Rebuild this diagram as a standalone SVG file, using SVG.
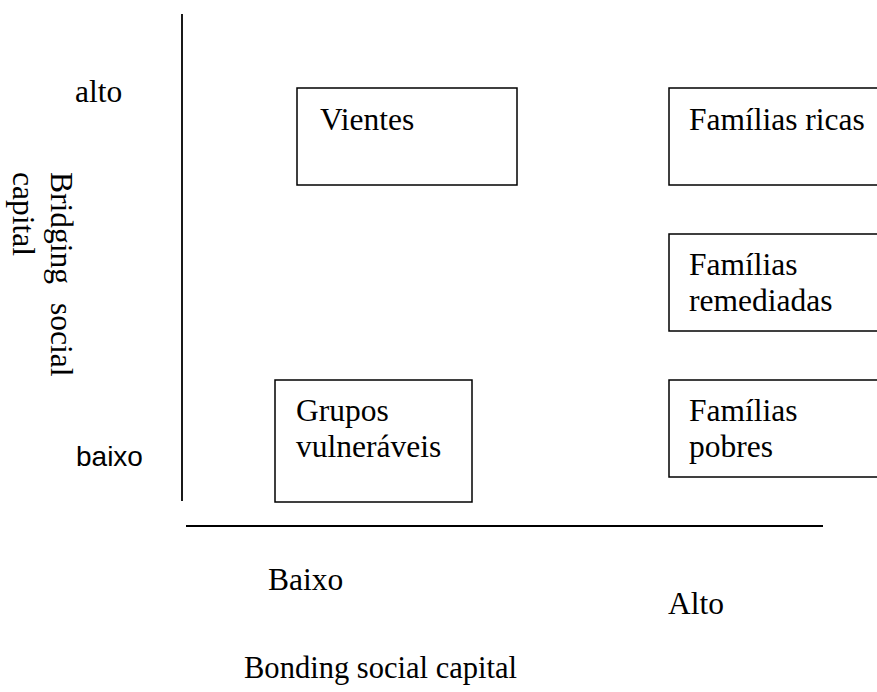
<svg xmlns="http://www.w3.org/2000/svg" width="877" height="692" viewBox="0 0 877 692">
  <style>
    .serif { font-family: "Liberation Serif", "Times New Roman", serif; font-size: 31.5px; fill: #000; }
    .sans { font-family: "Liberation Sans", Arial, sans-serif; font-size: 28px; fill: #000; }
    .box { fill: #fff; stroke: #000; stroke-width: 1.5; }
    .axis { stroke: #000; stroke-width: 1.8; fill: none; }
  </style>
  <rect width="877" height="692" fill="#fff"/>

  <g id="connectors">
    <line class="axis" x1="182" y1="14" x2="182" y2="501"/>
    <line class="axis" x1="186" y1="526" x2="823" y2="526"/>
  </g>

  <g id="axis-labels">
    <text class="serif" x="75" y="102">alto</text>
    <text class="sans" x="76" y="466">baixo</text>
    <text class="serif" transform="translate(51,172) rotate(90)"><tspan x="0" y="0">Bridging</tspan> <tspan x="131" y="0">social</tspan></text>
    <text class="serif" transform="translate(13,172) rotate(90)">capital</text>
    <text class="serif" x="268" y="590">Baixo</text>
    <text class="serif" x="668" y="614">Alto</text>
    <text class="serif" x="244" y="678" textLength="273" lengthAdjust="spacingAndGlyphs">Bonding social capital</text>
  </g>

  <g id="node-vientes">
    <rect class="box" x="297" y="88" width="220" height="97"/>
    <text class="serif" x="320" y="130">Vientes</text>
  </g>

  <g id="node-familias-ricas">
    <rect class="box" x="669" y="88" width="240" height="97"/>
    <text class="serif" x="689" y="130">Famílias ricas</text>
  </g>

  <g id="node-familias-remediadas">
    <rect class="box" x="669" y="234" width="240" height="97"/>
    <text class="serif" x="689" y="275">Famílias</text>
    <text class="serif" x="689" y="311">remediadas</text>
  </g>

  <g id="node-familias-pobres">
    <rect class="box" x="669" y="380" width="240" height="97"/>
    <text class="serif" x="689" y="421">Famílias</text>
    <text class="serif" x="689" y="457">pobres</text>
  </g>

  <g id="node-grupos-vulneraveis">
    <rect class="box" x="275" y="380" width="197" height="122"/>
    <text class="serif" x="296" y="421">Grupos</text>
    <text class="serif" x="296" y="457">vulneráveis</text>
  </g>
</svg>
